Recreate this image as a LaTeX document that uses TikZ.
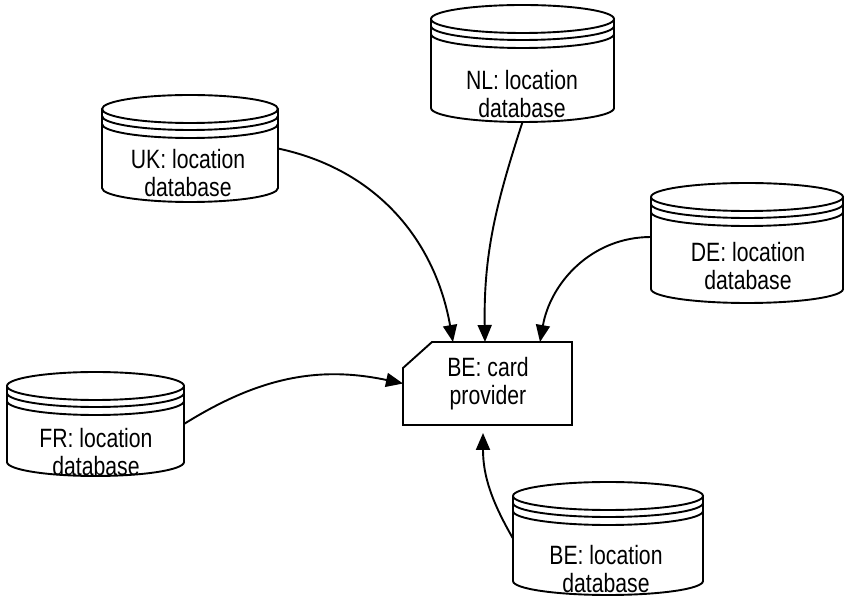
\documentclass[tikz,border=0pt]{standalone}
\usepackage{fontspec}
\setmainfont{Liberation Sans}[FakeStretch=0.8]
\usetikzlibrary{arrows.meta}
\tikzset{
  dbline/.style={line width=1.9pt, black},
  dbbox/.style={draw=none, rectangle, inner sep=0pt, outer sep=0pt},
  lbl/.style={align=center, inner sep=0pt, font=\fontsize{26.5}{28}\selectfont},
  conn/.style={line width=1.9pt, -{Triangle[length=17pt,width=14pt]}},
}
\newcommand\dbcyl[6]{% name, cx, cy, w, rx, h
  \node[dbbox, minimum width=#4pt, minimum height=#6pt] (#1) at (#2,#3) {};
  \draw[dbline] ([yshift=-14pt]#1.north) ellipse [x radius=#5, y radius=14];
  \draw[dbline] ([yshift=-14pt]#1.north west) -- ([yshift=14pt]#1.south west)
     arc[start angle=180, end angle=360, x radius=#5, y radius=14]
     -- ([yshift=-14pt]#1.north east);
  \draw[dbline] ([yshift=-21pt]#1.north west) arc[start angle=180, end angle=360, x radius=#5, y radius=14];
  \draw[dbline] ([yshift=-29pt]#1.north west) arc[start angle=180, end angle=360, x radius=#5, y radius=14];
}
\begin{document}
\begin{tikzpicture}[x=1pt, y=1pt]
\useasboundingbox (0,0) rectangle (846,597);

% databases
\dbcyl{uk}{190}{448.5}{176}{88}{107}
\node[lbl] (uk-t) at (188,424) {UK: location\\database};
\dbcyl{nl}{522.5}{533.5}{183}{91.5}{117}
\node[lbl] (nl-t) at (522,503) {NL: location\\database};
\dbcyl{de}{747}{354}{192}{96}{120}
\node[lbl] (de-t) at (748,331) {DE: location\\database};
\dbcyl{fr}{95.5}{173}{177}{88.5}{104}
\node[lbl] (fr-t) at (96,145) {FR: location\\database};
\dbcyl{be}{608}{58.5}{190}{95}{113}
\node[lbl] (be-t) at (606,28) {BE: location\\database};

% card provider
\node[dbbox, minimum width=169pt, minimum height=83pt] (cp) at (487.5,213.5) {};
\draw[dbline, line join=miter] (cp.south west) -- ([yshift=-26pt]cp.north west)
   -- ([xshift=29pt]cp.north west) -- (cp.north east) -- (cp.south east) -- cycle;
\node[lbl] (cp-t) at (488,213) {BE: card\\provider};

% connectors
\draw[conn] (uk.east) to[out=-12, in=100] ([xshift=-34.5pt]cp.north);
\draw[conn] (nl.south) to[out=252, in=91] ([xshift=-2.5pt]cp.north);
\draw[conn] ([yshift=6pt]de.west) to[out=180, in=80] ([xshift=52.5pt]cp.north);
\draw[conn] (fr.east) to[out=32, in=168] (cp.west);
\draw[conn] (be.west) to[out=120, in=270] ([xshift=-4.5pt,yshift=-8pt]cp.south);
\end{tikzpicture}
\end{document}
